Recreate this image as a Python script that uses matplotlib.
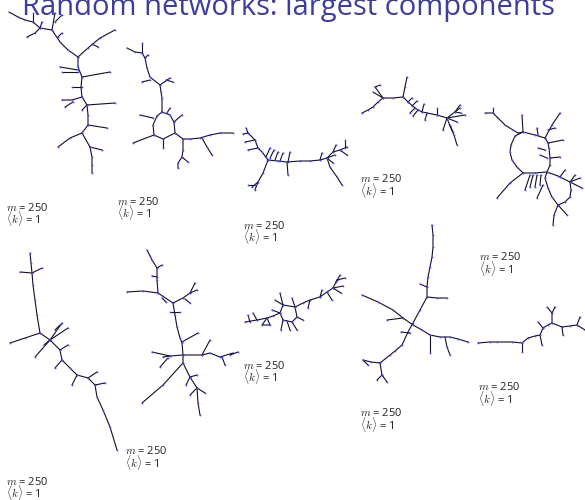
import matplotlib.pyplot as plt

plt.rcParams['font.family'] = ['Open Sans', 'DejaVu Sans']
plt.rcParams['mathtext.fontset'] = 'cm'

title = "Random networks: largest components"
m_value = 250
k_value = 1

# layout coordinates of the ten largest components (x right, y down)
net1 = [
    [(9, 12), (18, 17), (25, 20), (33, 22), (40, 28), (52, 30), (60, 42), (68, 50), (78, 57)],
    [(78, 57), (88, 48), (100, 38), (115, 30)],
    [(92, 44), (98, 47)],
    [(33, 13), (33, 22)],
    [(42, 22), (40, 28)],
    [(55, 13), (52, 30)],
    [(62, 15), (55, 22)],
    [(27, 37), (35, 33), (40, 28)],
    [(62, 33), (58, 37)],
    [(78, 57), (78, 67), (82, 77), (81, 87), (82, 97), (87, 105), (88, 115), (88, 125),
     (82, 133), (90, 147), (92, 157), (92, 165), (92, 173)],
    [(60, 67), (78, 70)],
    [(62, 72), (78, 72)],
    [(82, 77), (110, 72)],
    [(72, 87), (82, 87)],
    [(62, 100), (72, 100), (82, 97)],
    [(65, 107), (73, 102)],
    [(87, 105), (115, 103)],
    [(82, 110), (87, 105)],
    [(88, 125), (107, 128)],
    [(82, 133), (70, 138), (58, 147)],
    [(90, 147), (102, 150)],
]
net2 = [
    [(127, 48), (135, 52), (142, 53), (145, 58), (147, 68), (150, 77), (160, 85), (161, 92),
     (162, 98), (162, 112)],
    [(142, 43), (142, 53)],
    [(145, 58), (148, 55)],
    [(142, 82), (150, 80)],
    [(170, 78), (160, 85)],
    [(166, 80), (173, 82)],
    [(162, 112), (157, 116), (153, 125), (154, 135), (163, 139), (175, 133), (174, 122),
     (170, 115), (162, 112)],
    [(140, 115), (153, 118)],
    [(133, 143), (154, 135)],
    [(163, 148), (163, 139)],
    [(182, 115), (174, 122)],
    [(170, 108), (167, 113)],
    [(175, 133), (183, 139), (190, 139), (200, 138), (210, 135), (220, 133), (233, 133)],
    [(202, 138), (207, 147), (212, 155)],
    [(183, 139), (183, 150), (182, 157), (178, 163), (178, 168)],
    [(182, 157), (188, 162)],
]
net3 = [
    [(268, 160), (278, 161), (287, 162), (300, 161), (310, 161), (320, 160), (327, 158)],
    [(327, 158), (333, 152), (340, 150), (347, 147)],
    [(268, 160), (262, 152), (258, 148), (255, 140), (248, 133)],
    [(248, 133), (246, 128)],
    [(248, 133), (243, 134)],
    [(268, 160), (263, 173), (258, 182), (252, 187)],
    [(258, 182), (255, 190)],
    [(255, 185), (248, 185)],
    [(266, 157), (270, 148)],
    [(270, 158), (274, 150)],
    [(275, 160), (278, 152)],
    [(280, 161), (283, 153)],
    [(287, 162), (288, 175)],
    [(290, 152), (288, 162)],
    [(258, 148), (248, 150)],
    [(255, 140), (245, 142)],
    [(327, 158), (330, 167), (337, 177), (342, 185)],
    [(327, 158), (335, 155)],
    [(327, 158), (333, 163)],
    [(320, 160), (322, 153)],
    [(333, 152), (336, 145)],
    [(340, 150), (347, 155)],
    [(345, 148), (345, 140)],
]
net4 = [
    [(362, 113), (368, 110), (373, 107), (378, 102), (383, 98), (393, 98), (403, 97), (408, 102),
     (415, 108), (422, 112), (427, 113), (437, 115), (447, 118), (450, 126), (454, 135), (457, 145)],
    [(403, 97), (405, 87), (407, 77)],
    [(383, 98), (375, 87)],
    [(383, 98), (373, 92)],
    [(375, 87), (380, 85)],
    [(408, 102), (412, 98)],
    [(412, 106), (417, 101)],
    [(415, 108), (410, 113)],
    [(418, 110), (413, 116)],
    [(422, 112), (424, 104)],
    [(427, 113), (425, 120)],
    [(437, 115), (437, 108)],
    [(447, 118), (460, 108)],
    [(447, 118), (465, 115)],
    [(447, 118), (457, 122)],
    [(447, 118), (443, 130)],
    [(450, 125), (453, 132)],
    [(455, 112), (460, 105)],
    [(455, 112), (461, 113)],
]
net5 = [
    [(485, 113), (493, 113), (498, 118), (505, 125), (513, 130), (518, 133), (523, 132),
     (535, 135), (545, 138)],
    [(493, 108), (493, 113)],
    [(523, 132), (515, 136), (511, 145), (510, 152), (512, 160), (517, 167), (523, 173),
     (535, 173), (547, 172), (550, 165), (550, 158), (549, 148), (548, 143), (545, 138)],
    [(523, 173), (510, 183), (497, 198)],
    [(547, 172), (558, 176), (570, 182), (571, 190), (570, 197), (565, 202), (558, 205),
     (552, 197), (548, 188), (545, 178), (547, 172)],
    [(558, 205), (554, 215), (553, 225)],
    [(558, 205), (567, 215)],
    [(545, 138), (552, 125), (560, 113)],
    [(548, 130), (555, 128)],
    [(522, 115), (523, 132)],
    [(537, 128), (538, 135)],
    [(548, 143), (563, 140)],
    [(550, 158), (560, 157)],
    [(547, 158), (540, 155)],
    [(545, 150), (538, 148)],
    [(530, 175), (525, 190)],
    [(533, 175), (530, 187)],
    [(537, 175), (535, 187)],
    [(541, 175), (540, 185)],
    [(543, 185), (537, 198)],
    [(570, 182), (580, 178)],
    [(570, 182), (582, 188)],
    [(570, 182), (575, 175)],
    [(560, 177), (565, 170)],
]
net6 = [
    [(30, 253), (31, 263), (32, 273), (33, 285), (35, 300), (37, 315), (40, 333), (50, 340),
     (60, 350), (62, 360), (70, 368), (77, 375), (88, 378), (95, 385), (97, 397), (103, 410),
     (110, 427), (117, 450)],
    [(40, 333), (25, 338), (10, 343)],
    [(20, 272), (32, 273), (42, 268)],
    [(50, 340), (62, 323)],
    [(50, 340), (68, 328)],
    [(50, 340), (35, 357)],
    [(50, 340), (44, 345)],
    [(55, 330), (60, 325)],
    [(60, 350), (68, 345)],
    [(62, 360), (55, 368)],
    [(77, 375), (72, 385)],
    [(88, 378), (97, 372)],
    [(95, 385), (105, 383)],
]
net7 = [
    [(147, 250), (150, 256), (152, 260), (157, 268), (157, 280), (158, 293), (173, 303),
     (175, 315), (177, 327), (180, 338), (182, 343), (183, 355), (183, 363), (190, 377),
     (197, 388), (198, 403), (200, 415)],
    [(158, 293), (143, 291), (127, 292)],
    [(173, 303), (183, 298), (190, 293), (195, 283)],
    [(183, 355), (170, 356), (163, 357)],
    [(183, 355), (202, 355), (210, 353), (220, 357), (233, 353)],
    [(183, 363), (163, 385), (142, 403)],
    [(198, 333), (182, 342)],
    [(210, 340), (202, 355)],
    [(157, 268), (162, 265)],
    [(152, 276), (157, 277)],
    [(162, 298), (166, 302)],
    [(170, 312), (180, 312)],
    [(185, 299), (190, 303)],
    [(190, 293), (197, 290)],
    [(168, 358), (160, 367)],
    [(170, 356), (152, 352)],
    [(222, 357), (225, 365)],
    [(230, 355), (238, 352)],
    [(190, 377), (186, 385)],
    [(190, 377), (197, 375)],
    [(197, 388), (190, 395)],
    [(197, 388), (205, 393)],
]
net8 = [
    [(283, 305), (295, 307), (297, 317), (292, 322), (283, 320), (280, 313), (283, 305)],
    [(295, 307), (303, 303), (310, 300), (320, 297), (327, 292), (333, 288), (337, 280)],
    [(280, 313), (273, 316), (267, 318), (257, 320), (245, 322)],
    [(283, 305), (280, 293)],
    [(283, 305), (275, 300)],
    [(295, 307), (292, 298)],
    [(297, 317), (303, 320)],
    [(292, 322), (297, 330)],
    [(287, 321), (290, 330)],
    [(283, 320), (281, 330)],
    [(280, 313), (272, 310)],
    [(310, 300), (308, 308)],
    [(320, 297), (322, 290)],
    [(327, 292), (332, 300)],
    [(333, 288), (343, 286)],
    [(333, 288), (341, 293)],
    [(337, 280), (345, 278)],
    [(336, 282), (340, 275)],
    [(267, 318), (262, 325), (270, 325), (267, 318)],
    [(257, 320), (253, 313)],
    [(250, 322), (248, 315)],
]
net9 = [
    [(432, 225), (433, 235), (433, 247), (432, 257), (430, 267), (428, 277), (427, 287),
     (427, 297), (420, 310), (413, 323), (408, 332), (402, 345), (395, 351), (390, 355),
     (380, 363), (371, 362), (363, 360)],
    [(362, 295), (378, 302), (393, 310), (403, 318), (413, 325), (422, 330), (430, 335),
     (440, 337), (450, 337), (458, 339), (468, 342)],
    [(387, 320), (403, 318)],
    [(445, 337), (447, 347), (450, 355)],
    [(430, 335), (430, 353)],
    [(427, 297), (437, 298), (447, 298)],
    [(420, 284), (427, 287)],
    [(380, 363), (382, 375)],
    [(382, 375), (377, 380)],
    [(382, 375), (387, 382)],
    [(410, 333), (401, 332)],
    [(363, 360), (368, 365)],
]
net10 = [
    [(478, 343), (490, 342), (497, 342), (512, 342), (522, 343), (528, 338), (535, 336),
     (540, 335), (543, 328), (548, 325), (552, 323), (562, 327), (570, 326), (577, 325),
     (585, 330)],
    [(522, 343), (522, 352)],
    [(540, 335), (542, 345)],
    [(543, 328), (538, 322)],
    [(552, 323), (552, 313), (547, 307)],
    [(552, 313), (555, 307)],
    [(562, 327), (563, 335)],
    [(577, 325), (580, 317)],
]
networks = [net1, net2, net3, net4, net5, net6, net7, net8, net9, net10]

# left edge and first-line centre of each "m / <k>" caption
label_x = [6, 117, 243, 360, 479, 6, 125, 243, 360, 478]
label_y = [208, 202, 226, 179, 257, 482, 451, 366, 413, 387]

fig = plt.figure(figsize=(5.85, 5.0), dpi=100)
ax = fig.add_axes([0, 0, 1, 1])
ax.set_xlim(0, 585)
ax.set_ylim(500, 0)
ax.axis('off')

for net in networks:
    for path in net:
        xs = [p[0] for p in path]
        ys = [p[1] for p in path]
        ax.plot(xs, ys, color='#111122', lw=0.8, solid_capstyle='round',
                marker='o', ms=1.3, mfc='#4a4aff', mec='none')

for x, y in zip(label_x, label_y):
    ax.text(x, y, r'$m$ = %d' % m_value, fontsize=8, va='center', ha='left', color='#222222')
    ax.text(x, y + 11, r'$\langle k\rangle$ = %d' % k_value, fontsize=8, va='center',
            ha='left', color='#222222')

ax.text(22, 15, title, fontsize=21, color='#3d3d9e', ha='left', va='baseline')

fig.savefig('out.png', dpi=100)
